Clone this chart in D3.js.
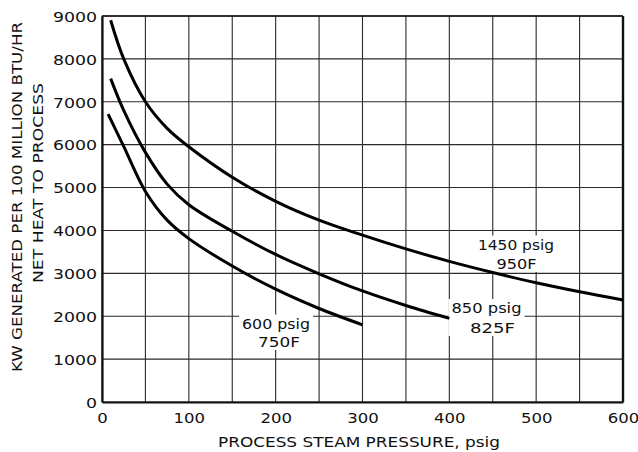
<!DOCTYPE html>
<html>
<head>
<meta charset="utf-8">
<script src="https://cdn.jsdelivr.net/npm/d3@7"></script>
<style>
  html, body { margin: 0; padding: 0; background: #fff; }
  svg { display: block; }
  text { font-family: "DejaVu Sans", "Liberation Sans", sans-serif; fill: #111; }
</style>
</head>
<body>
<svg id="chart" width="638" height="452"></svg>
<script>
// Process steam pressure (psig) vs kW generated per 100 million Btu/hr net heat to process
const xTicks = [0, 100, 200, 300, 400, 500, 600];
const yTicks = [0, 1000, 2000, 3000, 4000, 5000, 6000, 7000, 8000, 9000];
const xGrid = [0, 50, 100, 150, 200, 250, 300, 350, 400, 450, 500, 550, 600];

// 1450 psig / 950F throttle conditions
const hpPressure = [10, 25, 50, 75, 100, 150, 200, 250, 300, 350, 400, 450, 500, 550, 600];
const hpKw = [8900, 8000, 7000, 6380, 5950, 5240, 4680, 4240, 3890, 3570, 3280, 3020, 2780, 2570, 2380];

// 850 psig / 825F throttle conditions
const mpPressure = [10, 25, 50, 75, 100, 150, 200, 250, 300, 350, 400];
const mpKw = [7540, 6800, 5820, 5080, 4600, 3980, 3440, 2990, 2590, 2250, 1950];

// 600 psig / 750F throttle conditions
const lpPressure = [7, 25, 50, 75, 100, 150, 200, 250, 300];
const lpKw = [6710, 5960, 4910, 4240, 3810, 3170, 2630, 2180, 1800];

const curveLabels = [
  { lines: ["1450 psig", "950F"], at: [516, 516.5], base: [249.5, 269], len: [76, 40] },
  { lines: ["850 psig", "825F"], at: [486.5, 492.5], base: [313, 333], len: [70, 45] },
  { lines: ["600 psig", "750F"], at: [276, 279], base: [328.5, 347], len: [68, 42] }
];

const svg = d3.select("#chart");
const plotLeft = 102, plotRight = 623, plotTop = 16, plotBottom = 402;

const x = d3.scaleLinear().domain([0, 600]).range([plotLeft, plotRight]);
const y = d3.scaleLinear().domain([0, 9000]).range([plotBottom, plotTop]);

// grid
const grid = svg.append("g");
grid.selectAll("line.v").data(xGrid).join("line")
  .attr("class", "v")
  .attr("x1", d => x(d)).attr("x2", d => x(d))
  .attr("y1", plotTop).attr("y2", plotBottom)
  .attr("stroke", "#2a2a2a").attr("stroke-width", 1.1);
grid.selectAll("line.h").data(yTicks).join("line")
  .attr("class", "h")
  .attr("x1", plotLeft).attr("x2", plotRight)
  .attr("y1", d => y(d)).attr("y2", d => y(d))
  .attr("stroke", "#2a2a2a").attr("stroke-width", 1.1);

// white patches behind the curve labels (they break the grid, not the curves)
const patches = svg.append("g");
curveLabels.forEach(c => {
  const x0 = d3.min(c.at.map((a, i) => a - c.len[i] / 2)) - 3;
  const x1 = d3.max(c.at.map((a, i) => a + c.len[i] / 2)) + 3;
  patches.append("rect")
    .attr("x", x0).attr("y", c.base[0] - 14)
    .attr("width", x1 - x0).attr("height", c.base[1] - c.base[0] + 17)
    .attr("fill", "#fff");
});

// frame
svg.append("line").attr("x1", plotLeft).attr("x2", plotRight).attr("y1", plotTop).attr("y2", plotTop)
  .attr("stroke", "#111").attr("stroke-width", 1.6);
svg.append("line").attr("x1", plotRight).attr("x2", plotRight).attr("y1", plotTop).attr("y2", plotBottom)
  .attr("stroke", "#111").attr("stroke-width", 2.4);

// axes (no outward ticks, labels only)
const xAxis = d3.axisBottom(x).tickValues(xTicks).tickSize(0).tickPadding(0).tickFormat(d3.format("d"));
const gx = svg.append("g").attr("transform", `translate(0,${plotBottom})`).call(xAxis);
gx.select(".domain").attr("stroke", "#111").attr("stroke-width", 2.2);
gx.selectAll(".tick text")
  .attr("y", 21).attr("dy", 0)
  .style("font-size", "14.5px")
  .style("font-family", "'DejaVu Sans', sans-serif")
  .attr("fill", "#111")
  .attr("textLength", d => String(d).length * 10.5)
  .attr("lengthAdjust", "spacingAndGlyphs");

const yAxis = d3.axisLeft(y).tickValues(yTicks).tickSize(0).tickPadding(0).tickFormat(d3.format("d"));
const gy = svg.append("g").attr("transform", `translate(${plotLeft},0)`).call(yAxis);
gy.select(".domain").attr("stroke", "#111").attr("stroke-width", 2.2);
gy.selectAll(".tick text")
  .attr("x", -5).attr("dy", "0.36em")
  .style("font-size", "14.5px")
  .style("font-family", "'DejaVu Sans', sans-serif")
  .attr("fill", "#111")
  .attr("textLength", d => String(d).length * 11)
  .attr("lengthAdjust", "spacingAndGlyphs");

// curves
const line = d3.line().x(d => x(d[0])).y(d => y(d[1])).curve(d3.curveCatmullRom.alpha(0.5));
const series = [
  d3.zip(hpPressure, hpKw),
  d3.zip(mpPressure, mpKw),
  d3.zip(lpPressure, lpKw)
];
svg.append("g").selectAll("path").data(series).join("path")
  .attr("d", line)
  .attr("fill", "none")
  .attr("stroke", "#000")
  .attr("stroke-width", 3)
  .attr("stroke-linecap", "butt");

// curve labels
const lab = svg.append("g");
curveLabels.forEach(c => {
  c.lines.forEach((t, i) => lab.append("text")
    .attr("x", c.at[i]).attr("y", c.base[i])
    .attr("text-anchor", "middle")
    .style("font-size", "14.5px")
    .attr("textLength", c.len[i])
    .attr("lengthAdjust", "spacingAndGlyphs")
    .text(t));
});

// axis titles
svg.append("text")
  .attr("x", 359).attr("y", 446.5)
  .attr("text-anchor", "middle")
  .style("font-size", "14.5px")
  .attr("textLength", 282).attr("lengthAdjust", "spacingAndGlyphs")
  .text("PROCESS STEAM PRESSURE, psig");

svg.append("text")
  .attr("transform", "translate(22,197) rotate(-90)")
  .attr("text-anchor", "middle")
  .style("font-size", "14.5px")
  .attr("textLength", 350).attr("lengthAdjust", "spacingAndGlyphs")
  .text("KW GENERATED PER 100 MILLION BTU/HR");

svg.append("text")
  .attr("transform", "translate(43,183) rotate(-90)")
  .attr("text-anchor", "middle")
  .style("font-size", "14.5px")
  .attr("textLength", 200).attr("lengthAdjust", "spacingAndGlyphs")
  .text("NET HEAT TO PROCESS");
</script>
</body>
</html>
